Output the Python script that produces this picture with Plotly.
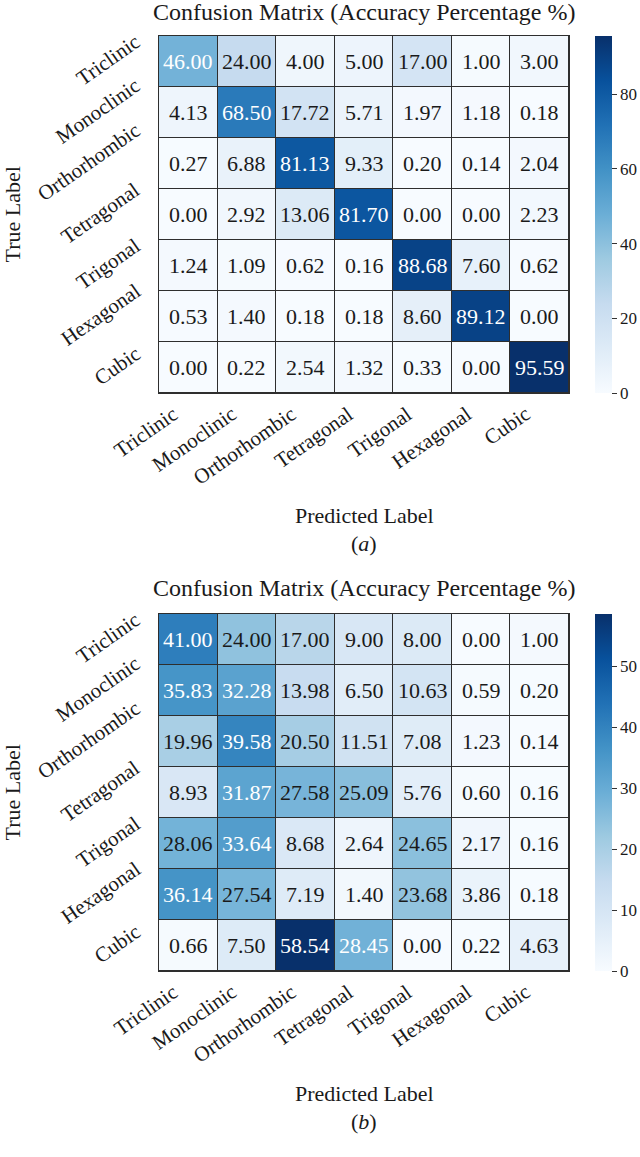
import plotly.graph_objects as go

classes = ["Triclinic", "Monoclinic", "Orthorhombic", "Tetragonal", "Trigonal", "Hexagonal", "Cubic"]

cm_a = [
    [46.00, 24.00, 4.00, 5.00, 17.00, 1.00, 3.00],
    [4.13, 68.50, 17.72, 5.71, 1.97, 1.18, 0.18],
    [0.27, 6.88, 81.13, 9.33, 0.20, 0.14, 2.04],
    [0.00, 2.92, 13.06, 81.70, 0.00, 0.00, 2.23],
    [1.24, 1.09, 0.62, 0.16, 88.68, 7.60, 0.62],
    [0.53, 1.40, 0.18, 0.18, 8.60, 89.12, 0.00],
    [0.00, 0.22, 2.54, 1.32, 0.33, 0.00, 95.59],
]

cm_b = [
    [41.00, 24.00, 17.00, 9.00, 8.00, 0.00, 1.00],
    [35.83, 32.28, 13.98, 6.50, 10.63, 0.59, 0.20],
    [19.96, 39.58, 20.50, 11.51, 7.08, 1.23, 0.14],
    [8.93, 31.87, 27.58, 25.09, 5.76, 0.60, 0.16],
    [28.06, 33.64, 8.68, 2.64, 24.65, 2.17, 0.16],
    [36.14, 27.54, 7.19, 1.40, 23.68, 3.86, 0.18],
    [0.66, 7.50, 58.54, 28.45, 0.00, 0.22, 4.63],
]

title_text = "Confusion Matrix (Accuracy Percentage %)"
xlabel = "Predicted Label"
ylabel = "True Label"
captions = ["(<i>a</i>)", "(<i>b</i>)"]
cbar_ticks_a = [0, 20, 40, 60, 80]
cbar_ticks_b = [0, 10, 20, 30, 40, 50]

blues = [
    [0.0, "#f7fbff"], [0.125, "#deebf7"], [0.25, "#c6dbef"], [0.375, "#9ecae1"],
    [0.5, "#6baed6"], [0.625, "#4292c6"], [0.75, "#2171b5"], [0.875, "#08519c"],
    [1.0, "#08306b"],
]

FONT = "Liberation Serif"
W, H = 640, 1157
GRID = "#2e2e2e"
TXT = "#1a1a1a"

def py(px):
    return 1 - px / H

fig = go.Figure()

panels = [
    dict(z=cm_a, ticks=cbar_ticks_a, top=36, bottom=393, title_y=12, xl_y=516, cap_y=543),
    dict(z=cm_b, ticks=cbar_ticks_b, top=614, bottom=971, title_y=588, xl_y=1093, cap_y=1121),
]

n = len(classes)
x0, x1 = 159, 569
annotations = []
for i, p in enumerate(panels):
    suffix = "" if i == 0 else str(i + 1)
    xa, ya = "x" + suffix, "y" + suffix
    z = p["z"]
    zmax = max(max(r) for r in z)
    cy = (p["top"] + p["bottom"]) / 2
    fig.add_trace(go.Heatmap(
        z=z, x=classes, y=classes, xaxis=xa, yaxis=ya,
        colorscale=blues, zmin=0, zmax=zmax, xgap=1, ygap=1,
        hoverinfo="skip",
        colorbar=dict(
            x=595 / W, xanchor="left", y=py(cy), yanchor="middle", xpad=0, ypad=0,
            len=p["bottom"] - p["top"], lenmode="pixels",
            thickness=17, thicknessmode="pixels", outlinewidth=0,
            tickvals=p["ticks"], ticks="outside", ticklen=5, tickwidth=1,
            tickcolor="#333", tickfont=dict(family=FONT, size=17, color=TXT),
        ),
    ))
    for r, row in enumerate(z):
        for c, v in enumerate(row):
            annotations.append(dict(
                x=classes[c], y=classes[r], xref=xa, yref=ya, text=f"{v:.2f}",
                showarrow=False,
                font=dict(family=FONT, size=22, color="white" if v / zmax > 0.48 else TXT),
            ))
    # rotated tick labels, anchored like matplotlib (bbox right edge at tick)
    for name in classes:
        annotations.append(dict(
            x=name, y=0, xref=xa, yref=ya + " domain", text=name, showarrow=False,
            textangle=-35, xanchor="right", yanchor="top", xshift=-3, yshift=-6,
            font=dict(family=FONT, size=21, color=TXT),
        ))
        annotations.append(dict(
            x=0, y=name, xref=xa + " domain", yref=ya, text=name, showarrow=False,
            textangle=-35, xanchor="right", yanchor="middle", xshift=-12, yshift=2,
            font=dict(family=FONT, size=21, color=TXT),
        ))
    xc = (x0 + x1) / 2 / W
    annotations += [
        dict(x=xc, y=py(p["title_y"]), xref="paper", yref="paper", text=title_text,
             showarrow=False, xanchor="center", yanchor="middle",
             font=dict(family=FONT, size=24, color=TXT)),
        dict(x=xc, y=py(p["xl_y"]), xref="paper", yref="paper", text=xlabel,
             showarrow=False, xanchor="center", yanchor="middle",
             font=dict(family=FONT, size=22, color=TXT)),
        dict(x=xc, y=py(p["cap_y"]), xref="paper", yref="paper", text=captions[i],
             showarrow=False, xanchor="center", yanchor="middle",
             font=dict(family=FONT, size=22, color=TXT)),
        dict(x=12 / W, y=py(cy), xref="paper", yref="paper", text=ylabel,
             showarrow=False, xanchor="center", yanchor="middle", textangle=-90,
             font=dict(family=FONT, size=22, color=TXT)),
    ]
    axis_common = dict(showline=True, mirror=True, linecolor=GRID, linewidth=1,
                       showgrid=False, zeroline=False, ticks="",
                       showticklabels=False, automargin=False)
    fig.update_layout(**{
        "xaxis" + suffix: dict(domain=[x0 / W, x1 / W], anchor=ya, type="category",
                               range=[-0.5, n - 0.5], autorange=False, **axis_common),
        "yaxis" + suffix: dict(domain=[py(p["bottom"]), py(p["top"])], anchor=xa,
                               type="category", range=[n - 0.5, -0.5], autorange=False,
                               **axis_common),
    })

fig.update_layout(
    width=W, height=H, margin=dict(l=0, r=0, t=0, b=0, autoexpand=False),
    paper_bgcolor="white", plot_bgcolor=GRID,
    annotations=annotations, showlegend=False,
)

fig.write_html("out.html")
